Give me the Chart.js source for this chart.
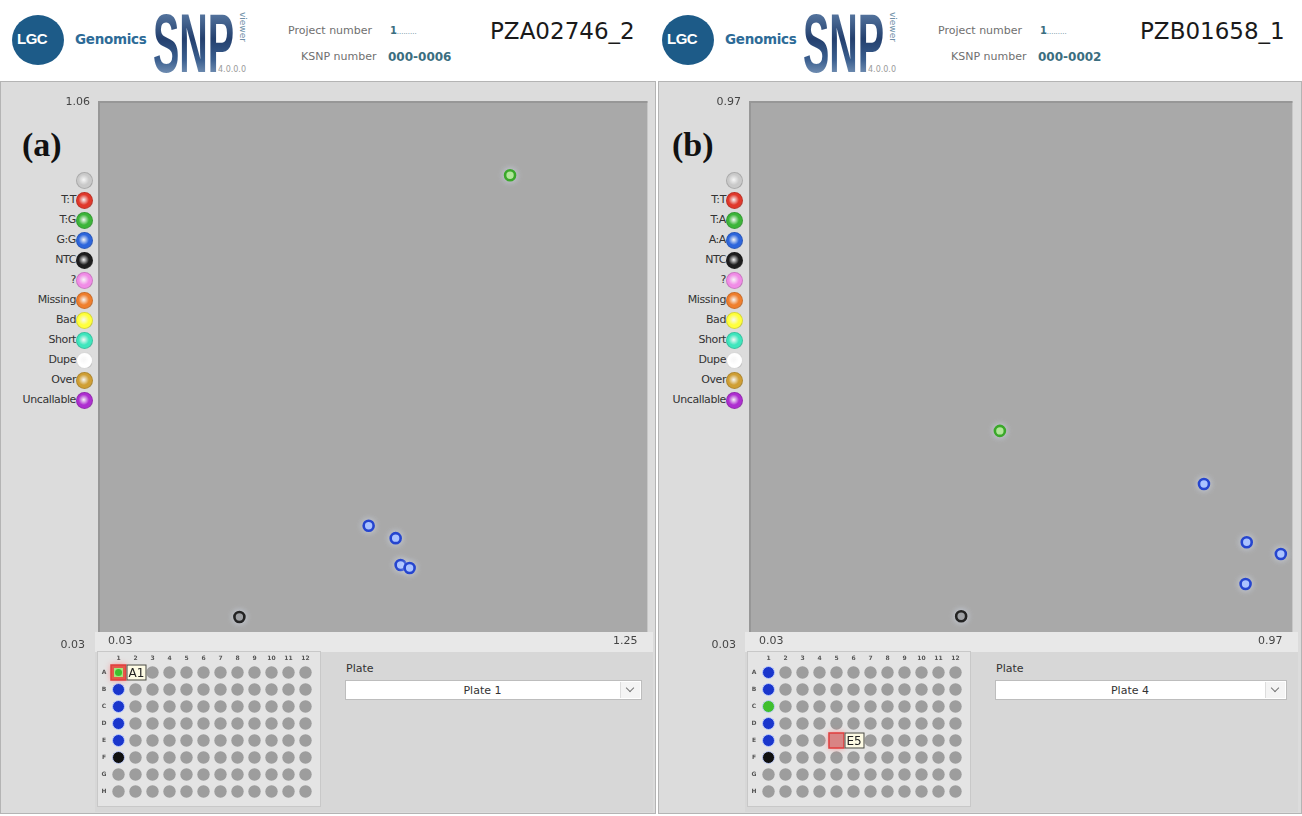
<!DOCTYPE html>
<html>
<head>
<meta charset="utf-8">
<script src="https://cdn.jsdelivr.net/npm/chart.js@4.4.0/dist/chart.umd.min.js"></script>
<style>
body { margin:0; width:1302px; height:816px; position:relative; overflow:hidden; background:#fff; font-family:'DejaVu Sans', sans-serif; }
.abs { position:absolute; white-space:nowrap; }
.panel { position:absolute; top:81px; height:733px; background:#dcdcdc; border:1px solid #b4b4b4; box-sizing:border-box; }
.xrow { position:absolute; height:20px; background:#e8e8e8; }
.lower { position:absolute; background:#d7d7d7; }
.platebox { position:absolute; background:#e4e4e4; border:1px solid #c8c8c8; box-sizing:border-box; }
.lgc { position:absolute; width:52px; height:50px; border-radius:50%; background:#1d5b88; }
.lgc span { position:absolute; left:5px; top:15px; color:#fff; font:bold 15px 'Liberation Sans', sans-serif; letter-spacing:-0.5px; }
.genomics { font:bold 13.5px 'DejaVu Sans', sans-serif; color:#2d6b97; letter-spacing:-0.3px; }
.snp { font:bold 84px/1 'Liberation Sans', sans-serif; transform:scaleX(0.47); transform-origin:left top;
  background:linear-gradient(180deg,#6d8fb6 0%,#24406e 45%,#3b5f8f 70%,#9cb4cf 100%); -webkit-background-clip:text; color:transparent; }
.viewer { font:9px 'DejaVu Sans', sans-serif; color:#6f8fa8; transform:rotate(90deg); transform-origin:left top; }
.ver { font:8px 'DejaVu Sans', sans-serif; color:#9a9a9a; }
.hlabel { font:11px 'DejaVu Sans', sans-serif; color:#707070; }
.hval { font:bold 12px 'DejaVu Sans', sans-serif; color:#3b6e80; }
.title { font:23px 'DejaVu Sans', sans-serif; color:#1a1a1a; }
.tag { font:bold 34px 'Liberation Serif', serif; color:#111; }
.leglab { font:11px 'DejaVu Sans', sans-serif; color:#333; letter-spacing:-0.4px; text-align:right; width:76px; }
.legdot { position:absolute; width:17px; height:17px; border-radius:50%; box-sizing:border-box; }
.platelab { font:11px 'DejaVu Sans', sans-serif; color:#333; }
.select { position:absolute; height:20px; background:#fff; border:1px solid #bdbdbd; box-sizing:border-box; font:11px 'DejaVu Sans', sans-serif; color:#333; }
.select .txt { position:absolute; left:0; right:22px; top:3px; text-align:center; }
.select .btn { position:absolute; right:1px; top:1px; width:19px; height:16px; border-left:1px solid #ddd; background:#f4f4f4; }
.select .btn i { position:absolute; left:6px; top:3px; width:5px; height:5px; border-right:1px solid #777; border-bottom:1px solid #777; transform:rotate(45deg); }
canvas { position:absolute; }
</style>
</head>
<body>
<script>
// header / panel text
const panelTitles = ['PZA02746_2', 'PZB01658_1'];
const ksnpNumbers = ['000-0006', '000-0002'];
const panelTags = ['(a)', '(b)'];
const plateNames = ['Plate 1', 'Plate 4'];

// axis ranges (min, max) shown on the plots
const xRangeA = [0.03, 1.25];
const yRangeA = [0.03, 1.06];
const xRangeB = [0.03, 0.97];
const yRangeB = [0.03, 0.97];

// legend
const legendLabelsA = ['', 'T:T', 'T:G', 'G:G', 'NTC', '?', 'Missing', 'Bad', 'Short', 'Dupe', 'Over', 'Uncallable'];
const legendLabelsB = ['', 'T:T', 'T:A', 'A:A', 'NTC', '?', 'Missing', 'Bad', 'Short', 'Dupe', 'Over', 'Uncallable'];
const legendColors = ['#c9c9c9', '#e0392c', '#3db53a', '#2e66dc', '#1e1e1e', '#f08ce6', '#ef7f2e', '#ffff3c', '#3fe6bd', '#ffffff', '#cf9f35', '#ae2fd0'];

// scatter points (a)
const hetAx = [0.945];
const hetAy = [0.916];
const homAx = [0.631, 0.691, 0.702, 0.722];
const homAy = [0.236, 0.212, 0.160, 0.154];
const ntcAx = [0.344];
const ntcAy = [0.059];

// scatter points (b)
const hetBx = [0.464];
const hetBy = [0.386];
const homBx = [0.817, 0.891, 0.950, 0.889];
const homBy = [0.292, 0.189, 0.168, 0.115];
const ntcBx = [0.397];
const ntcBy = [0.058];

// 96 well plates
const plateRows = ['A', 'B', 'C', 'D', 'E', 'F', 'G', 'H'];
const plateCols = [1, 2, 3, 4, 5, 6, 7, 8, 9, 10, 11, 12];
const plateAWells = ['A1', 'B1', 'C1', 'D1', 'E1', 'F1'];
const plateACalls = ['het', 'hom', 'hom', 'hom', 'hom', 'ntc'];
const plateBWells = ['A1', 'B1', 'C1', 'D1', 'E1', 'F1'];
const plateBCalls = ['hom', 'hom', 'het', 'hom', 'hom', 'ntc'];
const pickedWells = ['A1', 'E5'];

const callStyle = {
    het: { border: '#3aa82a', fill: '#a4e57f', well: '#3fbf2f' },
    hom: { border: '#2545cf', fill: '#9cb8ff', well: '#1a36cc' },
    ntc: { border: '#232323', fill: '#8c8c8c', well: '#101010' }
};

function addEl(cls, x, y, html) {
    const el = document.createElement('div');
    el.className = 'abs ' + cls;
    el.style.left = x + 'px';
    el.style.top = y + 'px';
    if (html !== undefined) el.innerHTML = html;
    document.body.appendChild(el);
    return el;
}

function buildHeader(i, off) {
    const logo = addEl('lgc', off + 12, 15);
    logo.innerHTML = '<span>LGC</span>';
    addEl('genomics', off + 75, 31, 'Genomics');
    addEl('snp', off + 153, 1, 'SNP');
    addEl('viewer', off + 248, 12, 'viewer');
    addEl('ver', off + 218, 65, '4.0.0.0');
    addEl('hlabel', off + 288, 24, 'Project number');
    addEl('hval', off + 390, 23, '<span style="font-size:10px">1</span><span style="font-size:7px;font-style:italic;font-weight:normal">.........</span>');
    addEl('hlabel', off + 301, 50, 'KSNP number');
    addEl('hval', off + 388, 50, ksnpNumbers[i]);
    addEl('title', off + 490, 18, panelTitles[i]);
}

function buildPanel(i, off, width, plotRight) {
    const p = document.createElement('div');
    p.className = 'panel';
    p.style.left = (off === 0 ? 0 : 658) + 'px';
    p.style.width = width + 'px';
    document.body.appendChild(p);

    const xr = document.createElement('div');
    xr.className = 'xrow';
    xr.style.left = (off + 95) + 'px'; xr.style.top = '632px';
    xr.style.width = (plotRight - off - 95 + 3) + 'px';
    document.body.appendChild(xr);

    const lw = document.createElement('div');
    lw.className = 'lower';
    lw.style.left = (off + 95) + 'px'; lw.style.top = '652px';
    lw.style.width = (plotRight - off - 95 + 3) + 'px'; lw.style.height = '160px';
    document.body.appendChild(lw);

    const pb = document.createElement('div');
    pb.className = 'platebox';
    pb.style.left = (off + 97) + 'px'; pb.style.top = '651px';
    pb.style.width = '224px'; pb.style.height = '156px';
    document.body.appendChild(pb);

    addEl('tag', off + 22, 126, panelTags[i]);

    const labels = i === 0 ? legendLabelsA : legendLabelsB;
    labels.forEach((lab, k) => {
        const cy = 180 + k * 20;
        addEl('leglab', off + 0, cy - 7, lab);
        const c = legendColors[k];
        const d = addEl('legdot', off + 76, cy - 8);
        d.style.background = `radial-gradient(circle at 45% 45%, rgba(255,255,255,0.75) 0%, ${c} 45%, ${c} 70%, rgba(0,0,0,0.25) 100%)`;
        d.style.border = '1px solid rgba(0,0,0,0.15)';
    });

    addEl('platelab', off + 346, 662, 'Plate');
    const sel = document.createElement('div');
    sel.className = 'select';
    sel.style.left = (off + 345) + 'px'; sel.style.top = '680px';
    sel.style.width = (plotRight - off - 345 - 8) + 'px';
    sel.innerHTML = `<div class="txt">${plateNames[i]}</div><div class="btn"><i></i></div>`;
    document.body.appendChild(sel);
}

function makeCanvas(id, x, y, w, h) {
    const c = document.createElement('canvas');
    c.id = id;
    c.width = w; c.height = h;
    c.style.left = x + 'px'; c.style.top = y + 'px';
    c.style.width = w + 'px'; c.style.height = h + 'px';
    document.body.appendChild(c);
    return c;
}

const plotBg = {
    id: 'plotBg',
    beforeDraw(chart) {
        const { ctx, chartArea: a } = chart;
        ctx.save();
        ctx.fillStyle = '#a9a9a9';
        ctx.fillRect(a.left, a.top, a.right - a.left, a.bottom - a.top);
        ctx.strokeStyle = '#979797';
        ctx.lineWidth = 2;
        ctx.beginPath();
        ctx.moveTo(a.left + 1, a.bottom);
        ctx.lineTo(a.left + 1, a.top + 1);
        ctx.lineTo(a.right, a.top + 1);
        ctx.stroke();
        ctx.restore();
    },
    beforeDatasetsDraw(chart) {
        chart.ctx.save();
        chart.ctx.shadowColor = 'rgba(225,235,255,0.6)';
        chart.ctx.shadowBlur = 7;
    },
    afterDatasetsDraw(chart) {
        chart.ctx.restore();
    },
    afterDraw(chart) {
        const { ctx, chartArea: a, scales } = chart;
        const xs = scales.x, ys = scales.y;
        ctx.save();
        ctx.font = '11px "DejaVu Sans"';
        ctx.fillStyle = '#444';
        ctx.textBaseline = 'middle';
        ctx.textAlign = 'right';
        ctx.fillText(ys.max.toFixed(2), a.left - 8, ys.getPixelForValue(ys.max) + 1);
        ctx.fillText(ys.min.toFixed(2), a.left - 13, a.bottom + 13);
        ctx.fillText(xs.max.toFixed(2), a.right - 10, a.bottom + 9);
        ctx.textAlign = 'left';
        ctx.fillText(xs.min.toFixed(2), a.left + 10, a.bottom + 9);
        ctx.restore();
    }
};

function pts(xs, ys) {
    return xs.map((x, k) => ({ x: x, y: ys[k] }));
}

function scatterSet(xs, ys, call) {
    const s = callStyle[call];
    return {
        data: pts(xs, ys),
        pointRadius: 5,
        pointBorderWidth: 2.6,
        pointBorderColor: s.border,
        pointBackgroundColor: s.fill,
        pointHoverRadius: 5
    };
}

function renderScatter(id, off, plotRight, xRange, yRange, sets) {
    const left = off, top = 88, w = plotRight - off + 5, h = 566;
    const c = makeCanvas(id, left, top, w, h);
    new Chart(c, {
        type: 'scatter',
        data: { datasets: sets },
        options: {
            responsive: false,
            animation: false,
            devicePixelRatio: 1,
            layout: { padding: { left: 98, right: 5, top: 13, bottom: 22 } },
            plugins: { legend: { display: false }, tooltip: { enabled: false } },
            scales: {
                x: { type: 'linear', min: xRange[0], max: xRange[1], display: false },
                y: { type: 'linear', min: yRange[0], max: yRange[1], display: false }
            }
        },
        plugins: [plotBg]
    });
}

function wellXY(name) {
    return { x: parseInt(name.slice(1), 10), y: plateRows.indexOf(name[0]) + 1 };
}

function plateOverlay(picked, pickedCall) {
    return {
        id: 'plateOverlay',
        afterDraw(chart) {
            const { ctx, chartArea: a, scales } = chart;
            ctx.save();
            ctx.font = 'bold 6px "DejaVu Sans"';
            ctx.fillStyle = '#555';
            ctx.textAlign = 'center';
            ctx.textBaseline = 'middle';
            plateCols.forEach(cn => ctx.fillText(String(cn), scales.x.getPixelForValue(cn), a.top - 6));
            plateRows.forEach((r, k) => ctx.fillText(r, a.left - 6, scales.y.getPixelForValue(k + 1)));

            const w = wellXY(picked);
            const px = scales.x.getPixelForValue(w.x);
            const py = scales.y.getPixelForValue(w.y);
            ctx.shadowColor = 'rgba(255,110,110,0.8)';
            ctx.shadowBlur = 6;
            ctx.fillStyle = pickedCall ? '#e4574a' : '#d98484';
            ctx.fillRect(px - 7.5, py - 7.5, 15, 15);
            ctx.shadowBlur = 0;
            ctx.strokeStyle = '#e03c3c';
            ctx.lineWidth = 1.5;
            ctx.strokeRect(px - 7.5, py - 7.5, 15, 15);
            if (pickedCall) {
                ctx.fillStyle = callStyle[pickedCall].fill;
                ctx.fillRect(px - 4.5, py - 4.5, 9, 9);
                ctx.fillStyle = callStyle[pickedCall].well;
                ctx.beginPath(); ctx.arc(px, py, 3.5, 0, Math.PI * 2); ctx.fill();
            }
            ctx.fillStyle = '#fdfbe4';
            ctx.fillRect(px + 8, py - 8, 20, 16);
            ctx.strokeStyle = '#444';
            ctx.lineWidth = 1;
            ctx.strokeRect(px + 8.5, py - 7.5, 19, 15);
            ctx.fillStyle = '#222';
            ctx.font = '12px "DejaVu Sans"';
            ctx.textAlign = 'left';
            ctx.fillText(picked, px + 10, py + 1);
            ctx.restore();
        }
    };
}

function renderPlate(id, off, wells, calls, picked) {
    const c = makeCanvas(id, off + 97, 650, 224, 157);
    const empty = [];
    plateRows.forEach((r, ri) => {
        plateCols.forEach(cn => {
            const name = r + cn;
            if (wells.indexOf(name) === -1 && name !== picked) empty.push({ x: cn, y: ri + 1 });
        });
    });
    const sets = [{
        data: empty,
        pointRadius: 6.2,
        pointBorderWidth: 0,
        pointBackgroundColor: '#9d9d9d'
    }];
    let pickedCall = null;
    wells.forEach((wname, k) => { if (wname === picked) pickedCall = calls[k]; });
    ['het', 'hom', 'ntc'].forEach(call => {
        const list = wells.filter((wname, k) => calls[k] === call && wname !== picked);
        sets.push({
            data: list.map(wellXY),
            pointRadius: 6,
            pointBorderWidth: 1,
            pointBorderColor: 'rgba(190,205,255,0.9)',
            pointBackgroundColor: callStyle[call].well
        });
    });
    new Chart(c, {
        type: 'scatter',
        data: { datasets: sets },
        options: {
            responsive: false,
            animation: false,
            devicePixelRatio: 1,
            layout: { padding: { left: 13, right: 2, top: 14, bottom: 2 } },
            plugins: { legend: { display: false }, tooltip: { enabled: false } },
            scales: {
                x: { type: 'linear', min: 0.5, max: 12.5, display: false },
                y: { type: 'linear', min: 0.5, max: 8.5, reverse: true, display: false }
            }
        },
        plugins: [plateOverlay(picked, pickedCall)]
    });
}

buildHeader(0, 0);
buildHeader(1, 650);
buildPanel(0, 0, 656, 650);
buildPanel(1, 650, 644, 1295);

renderScatter('scatterA', 0, 650, xRangeA, yRangeA, [
    scatterSet(ntcAx, ntcAy, 'ntc'),
    scatterSet(homAx, homAy, 'hom'),
    scatterSet(hetAx, hetAy, 'het')
]);
renderScatter('scatterB', 651, 1295, xRangeB, yRangeB, [
    scatterSet(ntcBx, ntcBy, 'ntc'),
    scatterSet(homBx, homBy, 'hom'),
    scatterSet(hetBx, hetBy, 'het')
]);

renderPlate('plateA', 0, plateAWells, plateACalls, pickedWells[0]);
renderPlate('plateB', 650, plateBWells, plateBCalls, pickedWells[1]);
</script>
</body>
</html>
